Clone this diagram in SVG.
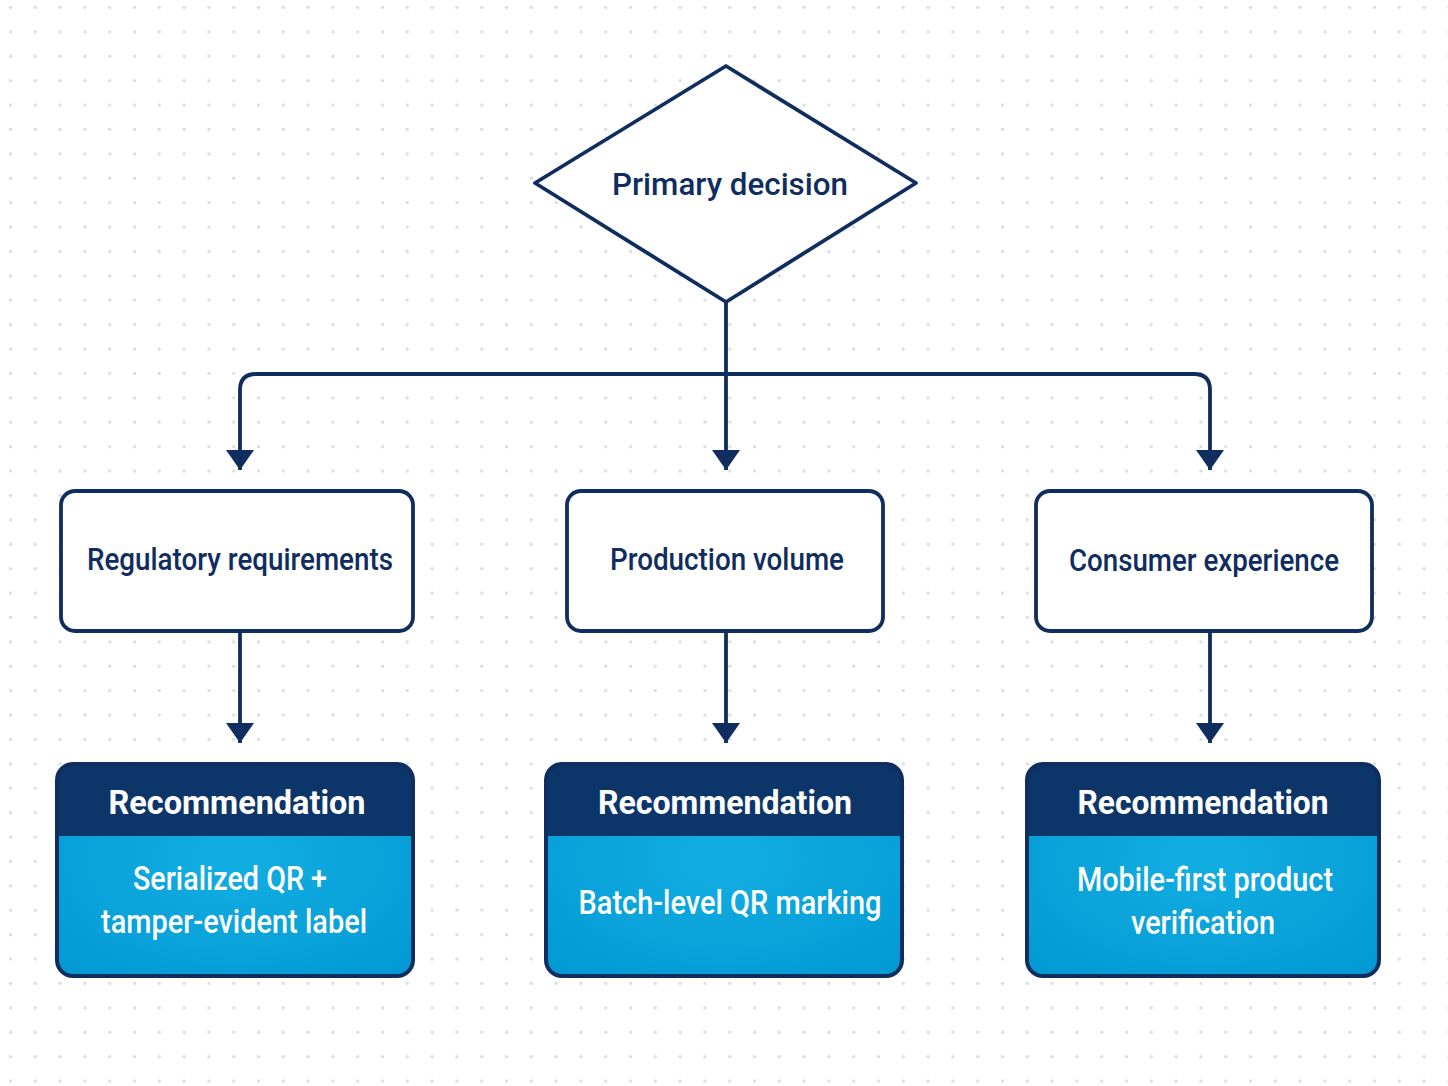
<svg xmlns="http://www.w3.org/2000/svg" width="1448" height="1086" viewBox="0 0 1448 1086">
<defs>
<pattern id="dots" x="10" y="7" width="24.8" height="24.4" patternUnits="userSpaceOnUse">
<circle cx="0.5" cy="0.5" r="1.6" fill="#d9dce2"/>
<circle cx="25.3" cy="0.5" r="1.6" fill="#d9dce2"/>
<circle cx="0.5" cy="24.9" r="1.6" fill="#d9dce2"/>
<circle cx="25.3" cy="24.9" r="1.6" fill="#d9dce2"/>
</pattern>
<marker id="arr" viewBox="0 0 20 28" refX="20" refY="14" markerWidth="20" markerHeight="28" markerUnits="userSpaceOnUse" orient="auto">
<path d="M0,0 L20,14 L0,28 Z" fill="#0f2d5e"/>
</marker>
<radialGradient id="bodyg" cx="0.5" cy="0.45" r="0.7">
<stop offset="0" stop-color="#12aee2"/>
<stop offset="1" stop-color="#039ad4"/>
</radialGradient>
</defs>
<style>
.node{fill:#ffffff;stroke:#0f2d5e;stroke-width:3.8}
.lbl{font-family:Roboto,"Noto Sans",sans-serif;font-size:31px;font-weight:500;fill:#0f2d5e;text-anchor:middle}
.hdr{font-family:Roboto,"Noto Sans",sans-serif;font-size:34px;font-weight:bold;fill:#ffffff;text-anchor:middle}
.body{font-family:Roboto,"Noto Sans",sans-serif;font-size:33px;font-weight:500;fill:#ffffff;text-anchor:middle}
.conn{fill:none;stroke:#0f2d5e;stroke-width:3.8}
</style>
<rect width="1448" height="1086" fill="#ffffff"/>
<rect width="1448" height="1086" fill="url(#dots)"/>

<g id="connectors">
<path class="conn" d="M726,302 L726,470" marker-end="url(#arr)"/>
<path class="conn" d="M726,374 L256,374 Q240,374 240,390 L240,470" marker-end="url(#arr)"/>
<path class="conn" d="M726,374 L1194,374 Q1210,374 1210,390 L1210,470" marker-end="url(#arr)"/>
<path class="conn" d="M240,631 L240,743" marker-end="url(#arr)"/>
<path class="conn" d="M726,631 L726,743" marker-end="url(#arr)"/>
<path class="conn" d="M1210,631 L1210,743" marker-end="url(#arr)"/>
</g>

<g id="primary-decision">
<polygon class="node" points="726,66 916,183 726,302 535,183" stroke-width="4" stroke-linejoin="round"/>
<text class="lbl" x="730" y="195" font-size="33" textLength="236" lengthAdjust="spacingAndGlyphs">Primary decision</text>
</g>

<g id="regulatory">
<rect class="node" x="61" y="491" width="352" height="140" rx="14"/>
<text class="lbl" x="240" y="570" textLength="306" lengthAdjust="spacingAndGlyphs">Regulatory requirements</text>
</g>
<g id="production">
<rect class="node" x="567" y="491" width="316" height="140" rx="14"/>
<text class="lbl" x="727" y="570" textLength="234" lengthAdjust="spacingAndGlyphs">Production volume</text>
</g>
<g id="consumer">
<rect class="node" x="1036" y="491" width="336" height="140" rx="14"/>
<text class="lbl" x="1204" y="571" textLength="270" lengthAdjust="spacingAndGlyphs">Consumer experience</text>
</g>

<g id="rec1">
<rect x="57" y="764" width="356" height="212" rx="16" fill="url(#bodyg)"/>
<path d="M57,836 L57,780 Q57,764 73,764 L397,764 Q413,764 413,780 L413,836 Z" fill="#0c356a"/>
<rect x="57" y="764" width="356" height="212" rx="16" fill="none" stroke="#0f2d5e" stroke-width="4"/>
<text class="hdr" x="237" y="814" textLength="257" lengthAdjust="spacingAndGlyphs">Recommendation</text>
<text class="body" x="230" y="890" textLength="194" lengthAdjust="spacingAndGlyphs">Serialized QR +</text>
<text class="body" x="234" y="933" textLength="266" lengthAdjust="spacingAndGlyphs">tamper-evident label</text>
</g>
<g id="rec2">
<rect x="546" y="764" width="356" height="212" rx="16" fill="url(#bodyg)"/>
<path d="M546,836 L546,780 Q546,764 562,764 L886,764 Q902,764 902,780 L902,836 Z" fill="#0c356a"/>
<rect x="546" y="764" width="356" height="212" rx="16" fill="none" stroke="#0f2d5e" stroke-width="4"/>
<text class="hdr" x="725" y="814" textLength="254" lengthAdjust="spacingAndGlyphs">Recommendation</text>
<text class="body" x="730" y="914" textLength="303" lengthAdjust="spacingAndGlyphs">Batch-level QR marking</text>
</g>
<g id="rec3">
<rect x="1027" y="764" width="352" height="212" rx="16" fill="url(#bodyg)"/>
<path d="M1027,836 L1027,780 Q1027,764 1043,764 L1363,764 Q1379,764 1379,780 L1379,836 Z" fill="#0c356a"/>
<rect x="1027" y="764" width="352" height="212" rx="16" fill="none" stroke="#0f2d5e" stroke-width="4"/>
<text class="hdr" x="1203" y="814" textLength="251" lengthAdjust="spacingAndGlyphs">Recommendation</text>
<text class="body" x="1205" y="891" textLength="256" lengthAdjust="spacingAndGlyphs">Mobile-first product</text>
<text class="body" x="1203" y="934" textLength="144" lengthAdjust="spacingAndGlyphs">verification</text>
</g>
</svg>
